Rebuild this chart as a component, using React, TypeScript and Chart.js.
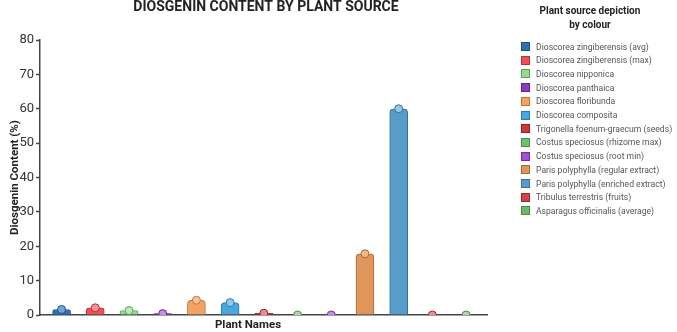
import React, { useEffect, useRef } from "react";
import { Chart, registerables } from "chart.js";

Chart.register(...registerables);

const chartTitle = "DIOSGENIN CONTENT BY PLANT SOURCE";
const xAxisTitle = "Plant Names";
const plantNames = [
  "Dioscorea zingiberensis (avg)",
  "Dioscorea zingiberensis (max)",
  "Dioscorea nipponica",
  "Dioscorea panthaica",
  "Dioscorea floribunda",
  "Dioscorea composita",
  "Trigonella foenum-graecum (seeds)",
  "Costus speciosus (rhizome max)",
  "Costus speciosus (root min)",
  "Paris polyphylla (regular extract)",
  "Paris polyphylla (enriched extract)",
  "Tribulus terrestris (fruits)",
  "Asparagus officinalis (average)",
];
const diosgeninValues = [1.6, 2.1, 1.3, 0.4, 4.3, 3.6, 0.5, 0, 0, 17.8, 60, 0, 0];
const barColors = [
  "#2f6fb6", "#ee4f58", "#96db8c", "#8a3cc0", "#f4a262", "#4aa6df", "#c93a3e",
  "#6fc06f", "#a34fd6", "#e0955a", "#579dc9", "#d2434a", "#6db86d",
];
const borderColors = [
  "#1d4f8a", "#b8323a", "#5c9e5a", "#5e2388", "#c0743a", "#2c79b0", "#8e2226",
  "#4a8c4a", "#722f9c", "#a9683a", "#3a6f98", "#962a30", "#4a8a4a",
];
const pointColors = [
  "#6aa6dc", "#f59298", "#b9ecb0", "#c98af0", "#f8c294", "#8ccaf0", "#ee8a8e",
  "#a8dca0", "#c987f2", "#f0b888", "#98c8e8", "#ec8a8e", "#a9d8a1",
];
const yTicks = [0, 10, 20, 30, 40, 50, 60, 70, 80];

const FONT = "Roboto, 'Noto Sans', Arial, sans-serif";

const titlePlugin = {
  id: "centeredTitles",
  afterDraw(chart: any) {
    const ctx = chart.ctx;
    ctx.save();
    ctx.fillStyle = "#222";
    ctx.textAlign = "center";
    ctx.textBaseline = "middle";
    ctx.font = `bold 14px ${FONT}`;
    ctx.fillText(chartTitle, 266, 7.5);
    ctx.font = `bold 11.5px ${FONT}`;
    ctx.fillText(xAxisTitle, 248, 325.5);
    ctx.restore();
  },
};

export default function App() {
  const ref = useRef<HTMLCanvasElement | null>(null);

  useEffect(() => {
    if (!ref.current) return;
    const chart = new Chart(ref.current, {
      type: "bar",
      data: {
        datasets: [
          {
            type: "line",
            data: diosgeninValues.map((v, i) => ({ x: i, y: v })),
            showLine: false,
            pointRadius: 4,
            pointBackgroundColor: pointColors,
            pointBorderColor: borderColors,
            pointBorderWidth: 1,
            order: 1,
          } as any,
          {
            type: "bar",
            data: diosgeninValues.map((v, i) => ({ x: i, y: v })),
            backgroundColor: barColors,
            borderColor: borderColors,
            borderWidth: 1,
            borderRadius: { topLeft: 4, topRight: 4, bottomLeft: 0, bottomRight: 0 },
            borderSkipped: "bottom",
            barThickness: 18,
            order: 2,
          } as any,
        ],
      },
      options: {
        responsive: false,
        animation: false,
        devicePixelRatio: 1,
        layout: { padding: { left: 0, right: 45, top: 40, bottom: 0 } },
        plugins: {
          legend: { display: false },
          tooltip: { enabled: false },
          title: { display: false },
        },
        scales: {
          x: {
            type: "linear",
            offset: false,
            min: -0.64,
            max: 12.62,
            grid: { display: false, offset: false },
            border: { display: true, color: "#444", width: 1.5 },
            ticks: { display: false },
            title: { display: false },
            afterFit: (s: any) => {
              s.height = 17;
            },
          },
          y: {
            min: 0,
            max: 80,
            afterBuildTicks: (s: any) => {
              s.ticks = yTicks.map((v) => ({ value: v }));
            },
            grid: {
              drawOnChartArea: false,
              drawTicks: true,
              tickLength: 4,
              tickColor: "#444",
              tickWidth: 1.5,
            },
            border: { display: true, color: "#444", width: 1.5 },
            ticks: {
              color: "#333",
              padding: 2,
              font: { family: FONT, size: 13 },
            },
            title: {
              display: true,
              text: "Diosgenin Content (%)",
              color: "#222",
              font: { family: FONT, size: 11.5, weight: "bold" },
              padding: { top: 8, bottom: 0 },
            },
            afterFit: (s: any) => {
              s.width = 40;
            },
          },
        },
      } as any,
      plugins: [titlePlugin],
    });
    return () => chart.destroy();
  }, []);

  return (
    <div
      style={{
        position: "fixed",
        left: 0,
        top: 0,
        width: 677,
        height: 332,
        background: "#fff",
        fontFamily: FONT,
      }}
    >
      <canvas
        ref={ref}
        width={532}
        height={332}
        style={{ position: "absolute", left: 0, top: 0, width: 532, height: 332 }}
      />
      <div
        style={{
          position: "absolute",
          left: 520,
          top: 4,
          width: 140,
          textAlign: "center",
          fontWeight: "bold",
          fontSize: 10,
          lineHeight: "13.5px",
          color: "#222",
        }}
      >
        Plant source depiction
        <br />
        by colour
      </div>
      {plantNames.map((name, i) => (
        <div
          key={name}
          style={{
            position: "absolute",
            left: 521,
            top: 40 + i * 13.7,
            height: 13,
            display: "flex",
            alignItems: "center",
            whiteSpace: "nowrap",
            fontSize: 8.6,
            color: "#555",
          }}
        >
          <span
            style={{
              display: "inline-block",
              width: 7,
              height: 7,
              background: barColors[i],
              border: `1px solid ${borderColors[i]}`,
              marginRight: 6,
            }}
          />
          {name}
        </div>
      ))}
    </div>
  );
}
